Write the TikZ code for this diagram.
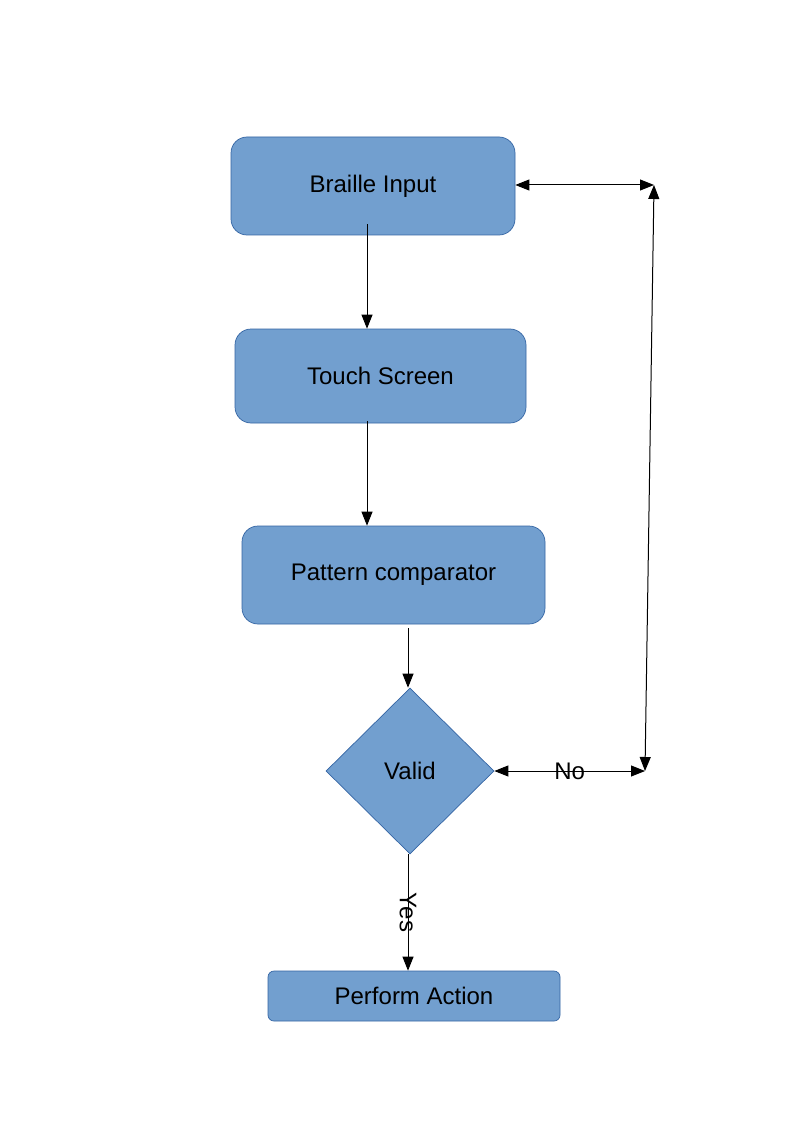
\documentclass[tikz,border=0pt]{standalone}
\usepackage{fontspec}
\setmainfont{Liberation Sans}
\usetikzlibrary{shapes.geometric,arrows.meta,calc}
\definecolor{boxfill}{HTML}{729FCF}
\definecolor{boxline}{HTML}{3465A4}
\begin{document}
\begin{tikzpicture}[x=1pt,y=-1pt,
  box/.style={draw=boxline,fill=boxfill,line width=0.7pt,rounded corners=16pt,inner sep=0pt,font=\fontsize{24}{28}\selectfont},
  dia/.style={diamond,draw=boxline,fill=boxfill,line width=0.7pt,inner sep=0pt,minimum width=168pt,minimum height=166pt,font=\fontsize{24}{28}\selectfont},
  arr/.style={line width=1pt,-{Triangle[length=14pt,width=11pt]}},
  darr/.style={line width=1pt,{Triangle[length=14pt,width=11pt]}-{Triangle[length=14pt,width=11pt]}},
  lbl/.style={font=\fontsize{24}{28}\selectfont,inner sep=0pt}]
\useasboundingbox (0,0) rectangle (794,1123);
\fill[white] (0,0) rectangle (794,1123);
\node[box,minimum width=284pt,minimum height=98pt] (braille) at (373,186) {Braille Input};
\node[box,minimum width=291pt,minimum height=94pt] (touch) at (380.5,376) {Touch Screen};
\node[box,minimum width=303pt,minimum height=98pt] (pattern) at (393.5,575) {Pattern comparator};
\node[dia] (valid) at (410,771) {Valid};
\node[box,rounded corners=6pt,minimum width=292pt,minimum height=50pt] (perform) at (414,996) {Perform Action};
\coordinate (tr) at (654,185);
\coordinate (br) at (645,771);
% vertical chain
\draw[arr] ([xshift=-6pt,yshift=11pt]braille.south) -- ([xshift=-6pt]braille.south |- touch.north);
\draw[arr] ([xshift=-13.5pt,yshift=2pt]touch.south) -- ([xshift=-13.5pt]touch.south |- pattern.north);
\draw[arr] ([xshift=14.5pt,yshift=-4pt]pattern.south) -- ([xshift=-2pt]valid.north);
\draw[arr] ([xshift=-2pt]valid.south) -- node[lbl,rotate=-90] {Yes} ([xshift=-2pt]valid.south |- perform.north);
% feedback loop
\draw[darr] (braille.east |- tr) -- (tr);
\draw[darr] (tr) -- (br);
\draw[darr] (valid.east) -- node[lbl] {No} (br);
\end{tikzpicture}
\end{document}
